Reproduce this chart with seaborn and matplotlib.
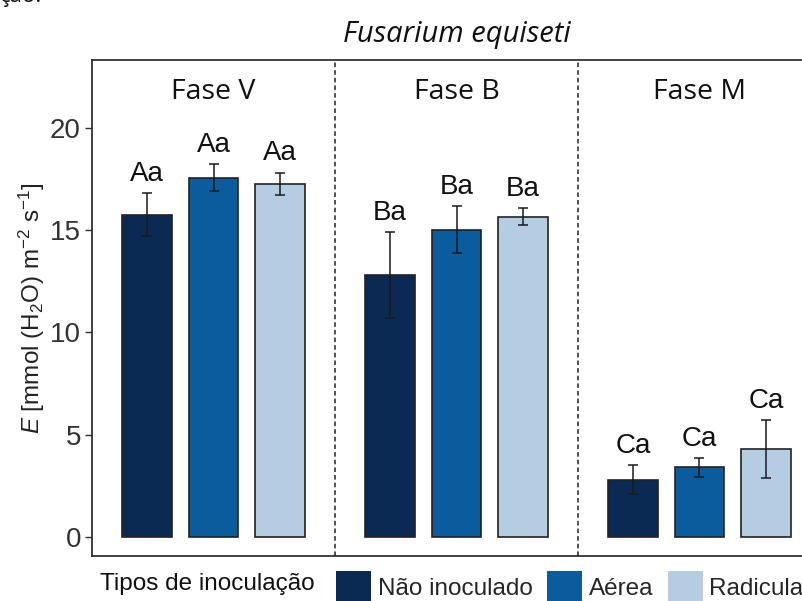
import matplotlib
matplotlib.use('Agg')
import numpy as np
import pandas as pd
import matplotlib.pyplot as plt
import seaborn as sns
from matplotlib.patches import Patch

# dados
fases = ["Fase V", "Fase B", "Fase M"]
tipos = ["Não inoculado", "Aérea", "Radicular"]
media_V = [15.75, 17.55, 17.25]
media_B = [12.8, 15.0, 15.65]
media_M = [2.8, 3.4, 4.3]
erro_V = [1.05, 0.65, 0.55]
erro_B = [2.1, 1.15, 0.4]
erro_M = [0.7, 0.45, 1.4]
letras_V = ["Aa", "Aa", "Aa"]
letras_B = ["Ba", "Ba", "Ba"]
letras_M = ["Ca", "Ca", "Ca"]
cores = ["#0b2a53", "#0a5c9c", "#b4cde2"]

df = pd.DataFrame({
    "fase": np.repeat(fases, 3),
    "tipo": tipos * 3,
    "E": media_V + media_B + media_M,
    "erro": erro_V + erro_B + erro_M,
    "letra": letras_V + letras_B + letras_M,
})

sns.set_theme(style="white")
plt.rcParams['font.family'] = ['Liberation Sans', 'DejaVu Sans']
plt.rcParams['mathtext.fontset'] = 'custom'
plt.rcParams['mathtext.rm'] = 'Liberation Sans'
plt.rcParams['mathtext.it'] = 'Liberation Sans:italic'

fig = plt.figure(figsize=(8.03, 6.01), dpi=100)
ax = fig.add_axes([0.1146, 0.0749, 0.9078, 0.8253])

sns.barplot(data=df, x="fase", y="E", hue="tipo", order=fases, hue_order=tipos,
            palette=cores, saturation=1, errorbar=None, width=0.82, gap=0.25,
            edgecolor="#222222", linewidth=1.2, legend=False, ax=ax)

# barras de erro e letras
barras = list(ax.containers)
for i, cont in enumerate(barras):
    sub = df[df["tipo"] == tipos[i]].set_index("fase").loc[fases]
    for bar, (_, row) in zip(cont, sub.iterrows()):
        xc = bar.get_x() + bar.get_width() / 2
        ax.errorbar(xc, row["E"], yerr=row["erro"], color="#1a1a1a", capsize=3.5, elinewidth=1.1, capthick=1.1)
        ax.text(xc, row["E"] + row["erro"] + 0.3, row["letra"], ha="center", va="bottom", fontsize=20, color="#111111")

for xv in [0.5, 1.5]:
    ax.axvline(xv, color="#222222", linestyle=(0, (3, 2)), linewidth=1.1)

for k, f in enumerate(fases):
    ax.text(k, 21.75, f, ha="center", va="center", fontsize=20.5, family="Open Sans", color="#111111")

ax.set_xlim(-0.5, 2.5)
ax.set_ylim(-0.93, 23.3)
ax.set_yticks([0, 5, 10, 15, 20])
ax.set_xticks([])
ax.set_xlabel("")
ax.set_ylabel(r"$\it{E}$ [mmol (H$_2$O) m$^{-2}$ s$^{-1}$]", fontsize=17.5, color="#222222", labelpad=2)
ax.tick_params(axis="y", left=True, length=5, width=1, color="#333333", labelsize=20, labelcolor="#333333", pad=3)
for s in ax.spines.values():
    s.set_color("#222222")
    s.set_linewidth(1.2)
ax.spines["right"].set_visible(False)

ax.set_title("Fusarium equiseti", fontsize=21, style="italic", family="Open Sans", pad=13, color="#111111")

# legenda inferior
fig.text(0.125, 0.028, "Tipos de inoculação", ha="left", va="center", fontsize=17.5, color="#111111")
handles = [Patch(facecolor=c, edgecolor="none") for c in cores]
fig.legend(handles, tipos, loc="center left", bbox_to_anchor=(0.419, 0.024), ncol=3, frameon=False,
           fontsize=17.5, handlelength=1.44, handleheight=1.65, handletextpad=0.25, columnspacing=0.62,
           borderaxespad=0, borderpad=0)

fig.text(0.0, 1.0 - 2 / 601, "ção:", ha="left", va="baseline", fontsize=16, family="Open Sans", color="#111111")

fig.savefig("out.png", dpi=100)
